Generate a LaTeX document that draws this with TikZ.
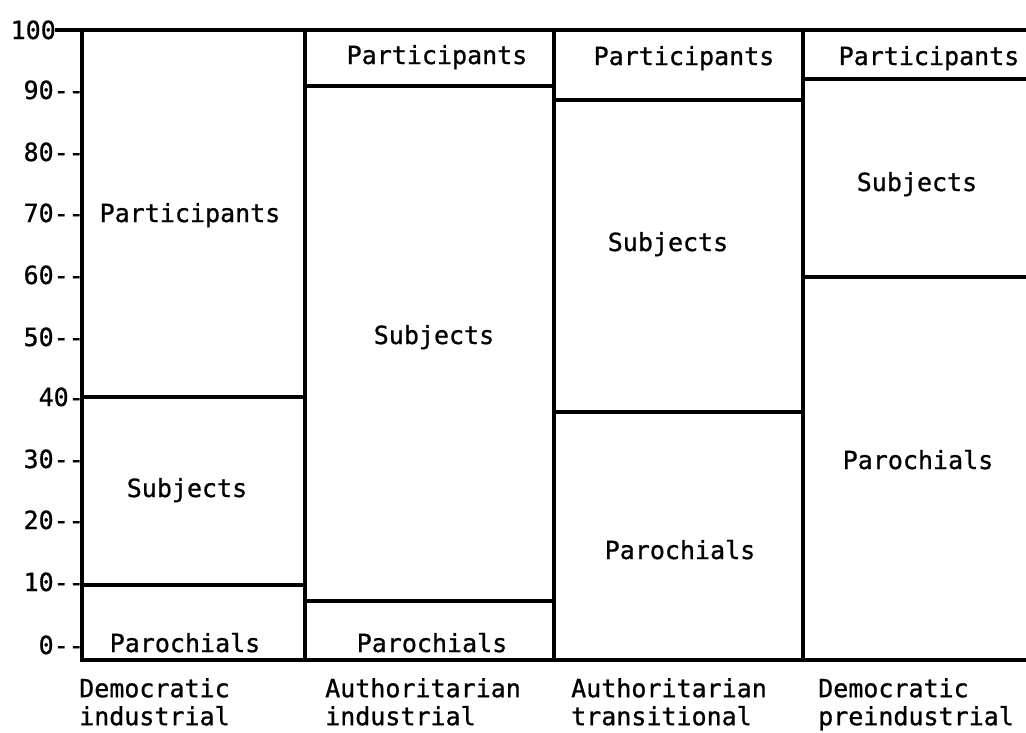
\documentclass[tikz,border=0pt]{standalone}
\usepackage{fontspec}
\newfontfamily\chartfont[FakeBold=0.9]{DejaVu Sans Mono}
\begin{document}
\begin{tikzpicture}[x=1pt,y=-1pt,
  frame/.style={line width=3.4pt, line cap=rect},
  divider/.style={line width=3.2pt},
  lbl/.style={font=\chartfont\fontsize{25}{29}\selectfont, inner sep=0pt, anchor=base},
  tick/.style={lbl, anchor=base east},
  cat/.style={font=\chartfont\fontsize{25}{28}\selectfont, inner sep=0pt, anchor=north west, align=left}]
\useasboundingbox (0,0) rectangle (1026,732);
% frame
\draw[frame] (57,30) -- (1026,30);
\draw[frame] (82,660) -- (1026,660);
\draw[frame] (82,30) -- (82,660);
\draw[frame] (305,30) -- (305,660);
\draw[frame] (554,30) -- (554,660);
\draw[frame] (803,30) -- (803,660);
% dividers
\draw[divider] (82,397) -- (305,397);
\draw[divider] (82,585) -- (305,585);
\draw[divider] (305,86) -- (554,86);
\draw[divider] (305,601) -- (554,601);
\draw[divider] (554,100) -- (803,100);
\draw[divider] (554,412) -- (803,412);
\draw[divider] (803,79) -- (1026,79);
\draw[divider] (803,277) -- (1026,277);
% axis ticks
\node[tick] (t100) at (56,39) {100};
\node[tick] (t90) at (84,99) {90-{}-};
\node[tick] (t80) at (84,161) {80-{}-};
\node[tick] (t70) at (84,222) {70-{}-};
\node[tick] (t60) at (84,284) {60-{}-};
\node[tick] (t50) at (84,346) {50-{}-};
\node[tick] (t40) at (84,406) {40-};
\node[tick] (t30) at (84,468) {30-{}-};
\node[tick] (t20) at (84,529) {20-{}-};
\node[tick] (t10) at (84,591) {10-{}-};
\node[tick] (t0) at (84,654) {0-{}-};
% column 1
\node[lbl] (p1) at (190,222) {Participants};
\node[lbl] (s1) at (187,497) {Subjects};
\node[lbl] (r1) at (185,652) {Parochials};
% column 2
\node[lbl] (p2) at (437,64) {Participants};
\node[lbl] (s2) at (434,344) {Subjects};
\node[lbl] (r2) at (432,652) {Parochials};
% column 3
\node[lbl] (p3) at (684,65) {Participants};
\node[lbl] (s3) at (668,251) {Subjects};
\node[lbl] (r3) at (680,559) {Parochials};
% column 4
\node[lbl] (p4) at (929,65) {Participants};
\node[lbl] (s4) at (917,191) {Subjects};
\node[lbl] (r4) at (918,469) {Parochials};
% categories
\node[cat] (c1) at (79,678) {Democratic\\industrial};
\node[cat] (c2) at (325,678) {Authoritarian\\industrial};
\node[cat] (c3) at (571,678) {Authoritarian\\transitional};
\node[cat] (c4) at (818,678) {Democratic\\preindustrial};
\end{tikzpicture}
\end{document}
